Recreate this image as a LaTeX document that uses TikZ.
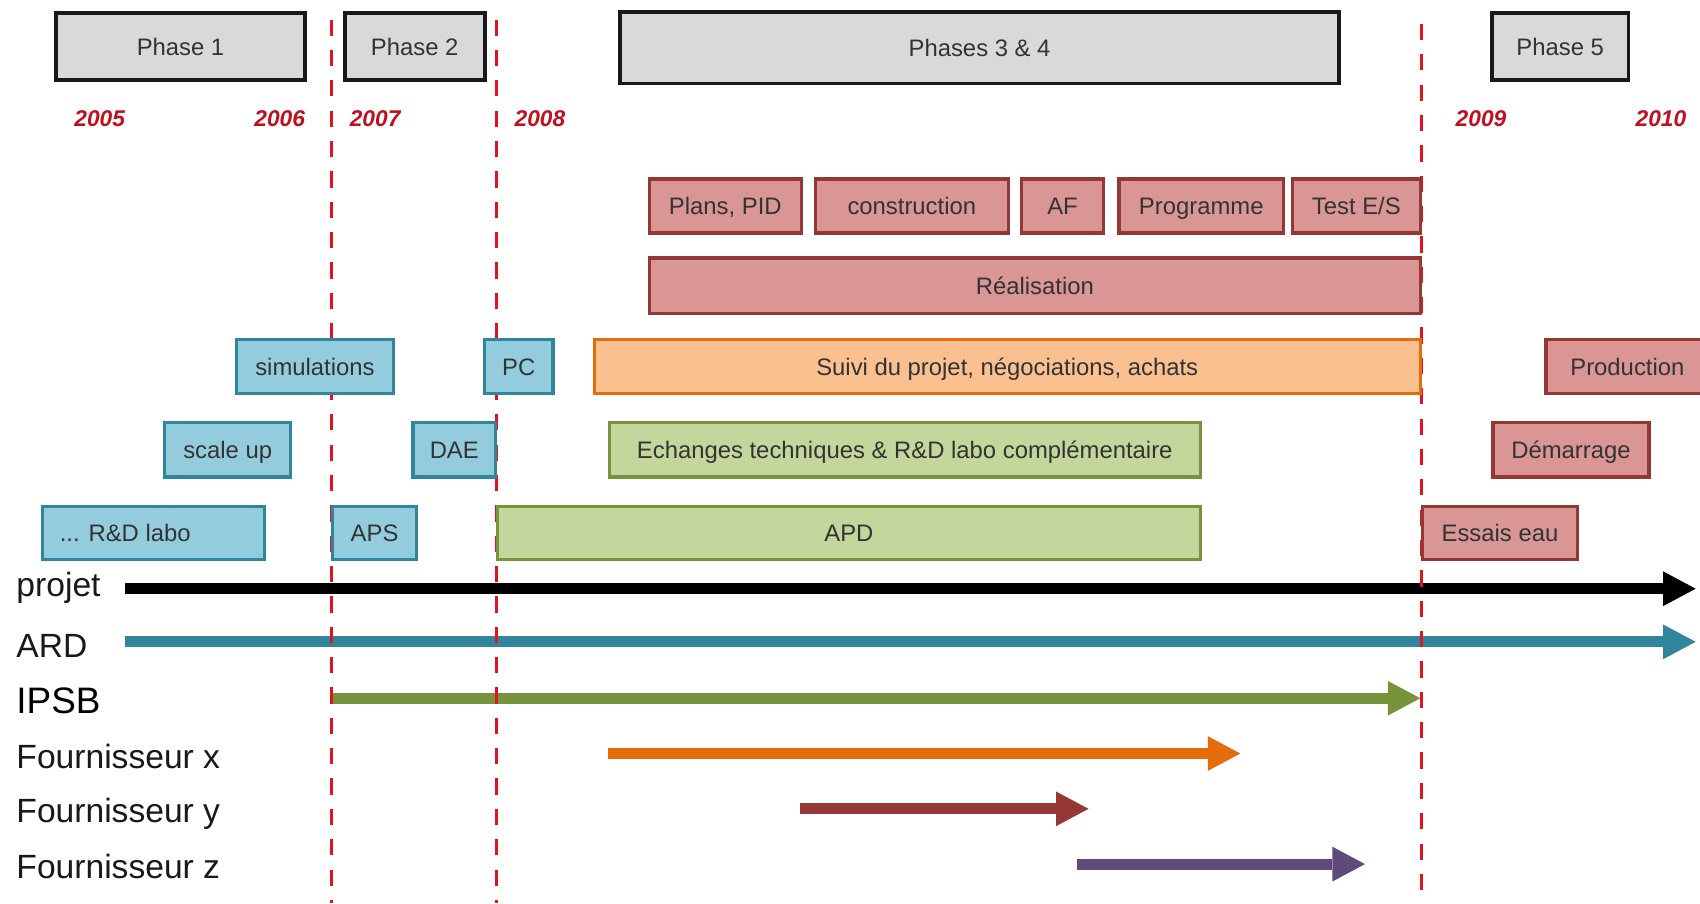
\documentclass[tikz,border=0pt]{standalone}
\usepackage{fontspec}
\setmainfont{Liberation Sans}
\usetikzlibrary{arrows.meta}
\definecolor{phasefill}{HTML}{D9D9D9}
\definecolor{redfill}{HTML}{D99694}
\definecolor{redline}{HTML}{953735}
\definecolor{bluefill}{HTML}{93CDDD}
\definecolor{blueline}{HTML}{31859C}
\definecolor{orfill}{HTML}{FAC090}
\definecolor{orline}{HTML}{E46C0A}
\definecolor{grfill}{HTML}{C3D69B}
\definecolor{grline}{HTML}{77933C}
\definecolor{purp}{HTML}{604A7B}
\definecolor{yearred}{HTML}{C0101E}
\definecolor{dashred}{HTML}{E0141E}
\newcommand\bx[7]{%
  \pgfmathsetmacro\bxw{#5-#3}\pgfmathsetmacro\bxh{#6-#4}%
  \pgfmathsetmacro\bxx{(#3+#5)/2}\pgfmathsetmacro\bxy{(#4+#6)/2}%
  \node[#1, minimum width=\bxw pt, minimum height=\bxh pt] (#2) at (\bxx,\bxy) {#7};}
\begin{document}
\begin{tikzpicture}[x=1pt,y=-1pt,
  box/.style={draw, line width=3pt, inner sep=0pt, text height=16pt, text depth=0pt, font=\fontsize{22}{26}\selectfont, text=black!80},
  phasebox/.style={box, draw=black!90, fill=phasefill, line width=3.5pt},
  redbox/.style={box, draw=redline, fill=redfill},
  bluebox/.style={box, draw=blueline, fill=bluefill},
  orbox/.style={box, draw=orline, fill=orfill},
  grbox/.style={box, draw=grline, fill=grfill},
  year/.style={font=\fontsize{21}{25}\selectfont\bfseries\itshape, text=yearred, anchor=base, inner sep=0pt},
  lab/.style={font=\fontsize{31}{36}\selectfont, text=black!90, anchor=base west, inner sep=0pt},
  arr/.style={line width=10pt, -{Triangle[length=30pt, width=32pt, line width=0pt]}},
  vdash/.style={dashred, line width=3pt, dash pattern=on 15pt off 13pt}]
\clip (0,0) rectangle (1568,833);
\fill[white] (0,0) rectangle (1568,833);

% left labels
\node[lab] (lprojet) at (15,550) {projet};
\node[lab] (lard) at (15,606) {ARD};
\node[lab, font=\fontsize{34}{40}\selectfont, text=black] (lipsb) at (15,658) {IPSB};
\node[lab] (lfx) at (15,709) {Fournisseur x};
\node[lab] (lfy) at (15,759) {Fournisseur y};
\node[lab] (lfz) at (15,810) {Fournisseur z};

% arrows
\coordinate (projS) at (115,543); \coordinate (projE) at (1564,543);
\coordinate (ardS) at (115,592);  \coordinate (ardE) at (1564,592);
\coordinate (ipsbS) at (306,644); \coordinate (ipsbE) at (1310,644);
\coordinate (fxS) at (561,695);   \coordinate (fxE) at (1144,695);
\coordinate (fyS) at (738,746);   \coordinate (fyE) at (1004,746);
\coordinate (fzS) at (993,797);   \coordinate (fzE) at (1259,797);
\draw[arr, black] (projS) -- (projE);
\draw[arr, blueline] (ardS) -- (ardE);
\draw[arr, grline] (ipsbS) -- (ipsbE);
\draw[arr, orline] (fxS) -- (fxE);
\draw[arr, redline] (fyS) -- (fyE);
\draw[arr, purp] (fzS) -- (fzE);

% dashed separators
\coordinate (d1t) at (306,18);  \coordinate (d1b) at (306,833);
\coordinate (d2t) at (458,18);  \coordinate (d2b) at (458,833);
\coordinate (d3t) at (1311,22); \coordinate (d3b) at (1311,833);
\draw[vdash] (d1t) -- (d1b);
\draw[vdash] (d2t) -- (d2b);
\draw[vdash] (d3t) -- (d3b);

% phases
\bx{phasebox}{ph1}{52}{12}{281}{74}{Phase 1}
\bx{phasebox}{ph2}{318}{12}{447}{74}{Phase 2}
\bx{phasebox}{ph34}{572}{11}{1235}{77}{Phases 3 \& 4}
\bx{phasebox}{ph5}{1376}{12}{1502}{74}{Phase 5}

% years
\node[year] (y2005) at (92,117) {2005};
\node[year] (y2006) at (258,117) {2006};
\node[year] (y2007) at (346,117) {2007};
\node[year] (y2008) at (498,117) {2008};
\node[year] (y2009) at (1366,117) {2009};
\node[year] (y2010) at (1532,117) {2010};

% red row
\bx{redbox}{plans}{599}{165}{739}{215}{Plans, PID}
\bx{redbox}{constr}{752}{165}{930}{215}{construction}
\bx{redbox}{af}{942}{165}{1018}{215}{AF}
\bx{redbox}{prog}{1032}{165}{1184}{215}{Programme}
\bx{redbox}{test}{1192}{165}{1310}{215}{Test E/S}
\bx{redbox}{real}{599}{238}{1310}{289}{R\'ealisation}

% row 3
\bx{bluebox}{simu}{218}{313}{363}{363}{simulations}
\bx{bluebox}{pc}{447}{313}{510}{363}{PC}
\bx{orbox}{suivi}{548}{313}{1310}{363}{Suivi du projet, n\'egociations, achats}
\bx{redbox}{prod}{1426}{313}{1576}{363}{Production}

% row 4
\bx{bluebox}{scale}{152}{390}{268}{440}{scale up}
\bx{bluebox}{dae}{381}{390}{457}{440}{DAE}
\bx{grbox}{ech}{562}{390}{1107}{440}{Echanges techniques \& R\&D labo compl\'ementaire}
\bx{redbox}{dem}{1377}{390}{1521}{440}{D\'emarrage}

% row 5
\bx{bluebox}{rd}{39}{467}{244}{516}{... R\&D labo\rule{52pt}{0pt}}
\bx{bluebox}{aps}{307}{467}{384}{516}{APS}
\bx{grbox}{apd}{459}{467}{1107}{516}{APD}
\bx{redbox}{essais}{1312}{467}{1455}{516}{Essais eau}
\end{tikzpicture}
\end{document}
